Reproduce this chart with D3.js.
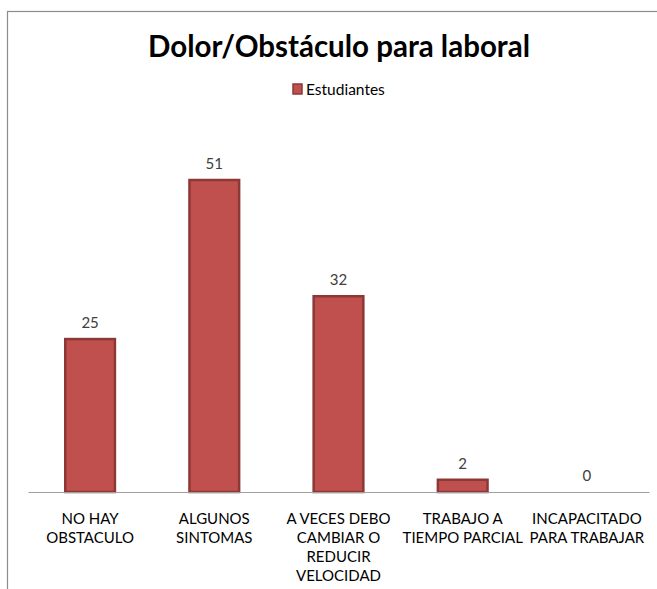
<!DOCTYPE html>
<html><head><meta charset="utf-8">
<script src="https://cdn.jsdelivr.net/npm/d3@7"></script>
<style>body{margin:0;background:#fff}svg{display:block}</style>
</head><body>
<svg id="c" width="657" height="589"></svg>
<script>
const categories = [
  ["NO HAY","OBSTACULO"],
  ["ALGUNOS","SINTOMAS"],
  ["A VECES DEBO","CAMBIAR O","REDUCIR","VELOCIDAD"],
  ["TRABAJO A","TIEMPO PARCIAL"],
  ["INCAPACITADO","PARA TRABAJAR"]
];
const values = [25, 51, 32, 2, 0];
const seriesName = "Estudiantes";
const title = "Dolor/Obstáculo para laboral";

const svg = d3.select("#c");
const font = "Lato, 'Open Sans', sans-serif";

// frame
svg.append("rect").attr("x",7.5).attr("y",11.5).attr("width",700).attr("height",700)
  .attr("fill","#fff").attr("stroke","#8c8c8c").attr("stroke-width",1.2);

const x = d3.scaleBand().domain(d3.range(values.length)).range([28, 649]).paddingInner(0.6).paddingOuter(0.3);
const y = d3.scaleLinear().domain([0, 51]).range([492, 180]);

// title
const t = svg.append("text").attr("x",339).attr("y",57).attr("text-anchor","middle")
  .attr("font-family",font).attr("font-weight","bold").attr("font-size",27).attr("fill","#000").text(title);
const tw = t.node().getComputedTextLength();
t.attr("font-size", 27*382/tw);

// legend
svg.append("rect").attr("x",293).attr("y",84).attr("width",9).attr("height",10)
  .attr("fill","#C0504D").attr("stroke","#8C3836").attr("stroke-width",1.5);
svg.append("text").attr("x",306).attr("y",95).attr("font-family",font).attr("font-size",15.5)
  .attr("fill","#000").text(seriesName);

// bars
svg.selectAll("rect.bar").data(values).join("rect").attr("class","bar")
  .attr("x",(d,i)=>x(i)).attr("width",x.bandwidth())
  .attr("y",d=>y(d)).attr("height",d=>y(0)-y(d))
  .attr("fill","#C0504D").attr("stroke","#8C3836").attr("stroke-width",2.5)
  .style("display",d=>d>0?null:"none");

// axis line
const ax = svg.append("g").attr("transform",`translate(0,${y(0)})`)
  .call(d3.axisBottom(x).tickSize(0).tickFormat(""));
ax.select(".domain").attr("stroke","#a0a0a0").attr("stroke-width",1.2);

// value labels
svg.selectAll("text.val").data(values).join("text").attr("class","val")
  .attr("x",(d,i)=>x(i)+x.bandwidth()/2).attr("y",d=>y(d)-11)
  .attr("text-anchor","middle").attr("font-family",font).attr("font-size",15)
  .attr("fill","#404040").text(d=>d);

// category labels
const cl = svg.selectAll("text.cat").data(categories).join("text").attr("class","cat")
  .attr("x",(d,i)=>x(i)+x.bandwidth()/2).attr("y",524)
  .attr("text-anchor","middle").attr("font-family",font).attr("font-size",15).attr("fill","#000");
cl.each(function(lines,i){
  const el = d3.select(this);
  lines.forEach((l,j)=>el.append("tspan").attr("x",x(i)+x.bandwidth()/2).attr("dy",j===0?0:19).text(l));
});
</script>
</body></html>
